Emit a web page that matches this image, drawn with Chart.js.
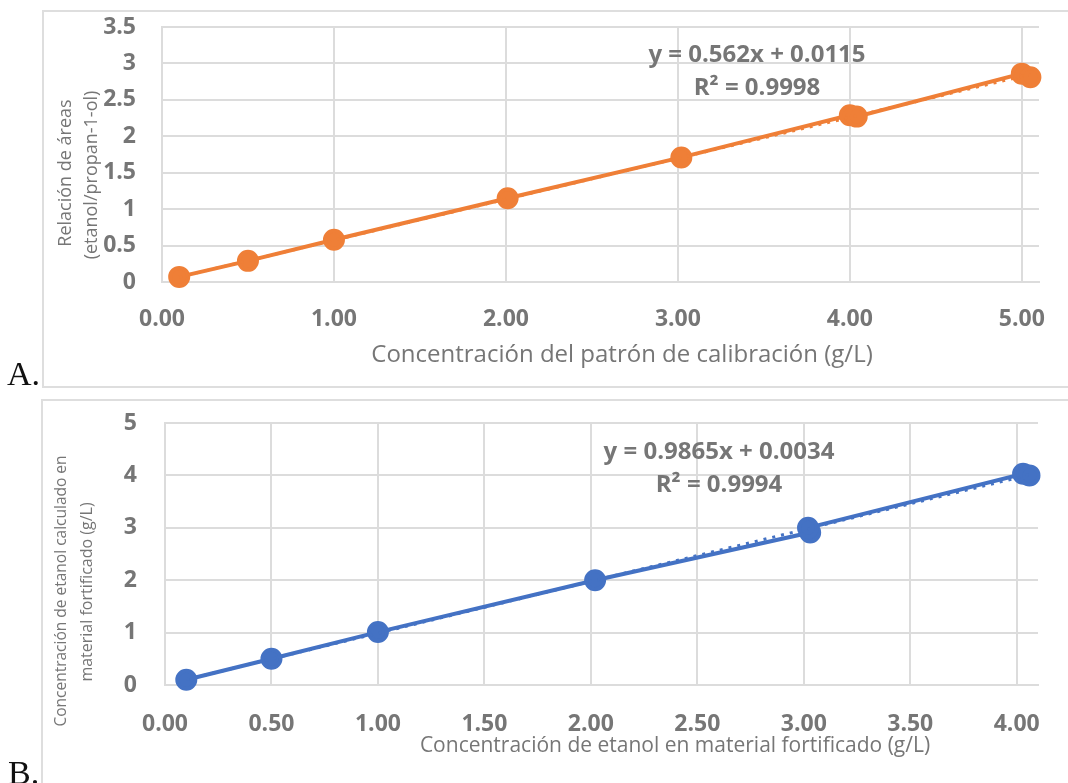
<!DOCTYPE html>
<html lang="es">
<head>
<meta charset="UTF-8">
<title>Curvas de calibración de etanol</title>
<script src="https://cdn.jsdelivr.net/npm/chart.js"></script>
<style>
  body { margin: 0; width: 1068px; height: 783px; overflow: hidden; background: #fff; position: relative; }
  .frame { position: absolute; border: 2px solid #dedede; box-sizing: border-box; }
  #frameA { left: 42px; top: 10px; width: 1040px; height: 378px; }
  #frameB { left: 41px; top: 399px; width: 1040px; height: 400px; }
  .wrap { position: absolute; left: 0; width: 1068px; }
  #wrapA { top: 0; height: 395px; }
  #wrapB { top: 395px; height: 388px; }
  .tag { position: absolute; font-family: "Liberation Serif", "DejaVu Serif", serif; font-size: 34px; line-height: 1; color: #111; }
</style>
</head>
<body>
  <div class="frame" id="frameA"></div>
  <div class="frame" id="frameB"></div>
  <div class="wrap" id="wrapA"><canvas id="chartA" width="1068" height="395"></canvas></div>
  <div class="wrap" id="wrapB"><canvas id="chartB" width="1068" height="388"></canvas></div>
  <div class="tag" style="left:7px; top:357px;">A.</div>
  <div class="tag" style="left:8px; top:756px;">B.</div>

<script>
// --- Panel A: calibration curve ---
const concA  = [0.1, 0.5, 1.0, 2.01, 3.02, 4.0, 4.04, 5.0, 5.05];
const ratioA = [0.07, 0.29, 0.58, 1.15, 1.71, 2.29, 2.27, 2.86, 2.81];
const trendXA = [0.1, 5.05];
const trendYA = [0.068, 2.85];
const xTicksA = [0, 1, 2, 3, 4, 5];
const yTicksA = [0, 0.5, 1, 1.5, 2, 2.5, 3, 3.5];

// --- Panel B: fortified material ---
const concB  = [0.1, 0.5, 1.0, 2.02, 3.03, 3.02, 4.03, 4.06];
const calcB  = [0.1, 0.5, 1.01, 2.0, 2.91, 3.0, 4.03, 4.0];
const trendXB = [0.1, 4.06];
const trendYB = [0.102, 4.01];
const xTicksB = [0, 0.5, 1, 1.5, 2, 2.5, 3, 3.5, 4];
const yTicksB = [0, 1, 2, 3, 4, 5];

const GRAY = '#767676';
const GRID = '#dcdcdc';
const FONT = '"Open Sans", sans-serif';

const toPoints = (xs, ys) => xs.map((x, i) => ({ x: x, y: ys[i] }));

// draws equation and axis titles at fixed spots
const freeText = {
  id: 'freeText',
  afterDraw(chart, args, opts) {
    const ctx = chart.ctx;
    (opts.items || []).forEach(t => {
      ctx.save();
      ctx.font = t.font;
      ctx.fillStyle = GRAY;
      ctx.textAlign = 'center';
      ctx.textBaseline = 'middle';
      ctx.translate(t.x, t.y);
      if (t.rot) ctx.rotate(-Math.PI / 2);
      ctx.fillText(t.text, 0, 0);
      ctx.restore();
    });
  }
};

function makeChart(id, o) {
  return new Chart(document.getElementById(id), {
    type: 'scatter',
    data: {
      datasets: [
        {
          data: toPoints(o.tx, o.ty),
          showLine: true,
          borderColor: o.color,
          borderWidth: 3,
          borderDash: [3, 6],
          pointRadius: 0,
          order: 0,
          clip: false
        },
        {
          data: toPoints(o.xs, o.ys),
          showLine: true,
          borderColor: o.color,
          backgroundColor: o.color,
          borderWidth: 4,
          pointRadius: 9,
          pointHoverRadius: 9,
          order: 1,
          clip: false
        }
      ]
    },
    options: {
      responsive: false,
      animation: false,
      layout: { padding: { top: o.padTop, right: o.padRight, left: 0, bottom: 0 } },
      plugins: {
        legend: { display: false },
        tooltip: { enabled: false },
        freeText: { items: o.texts }
      },
      scales: {
        x: {
          type: 'linear',
          min: 0,
          max: o.xMax,
          afterBuildTicks: s => { s.ticks = o.xTicks.map(v => ({ value: v })); },
          afterFit: s => {
            s.height = o.xAxisH;
            s.paddingLeft = 0;
            s.paddingRight = 0;
          },
          grid: { color: GRID, lineWidth: 2, drawTicks: false },
          border: { color: GRID, width: 2 },
          ticks: {
            padding: o.xPad,
            color: GRAY,
            font: { family: FONT, size: 23, weight: 'bold' },
            maxRotation: 0,
            callback: v => Number(v).toFixed(2)
          }
        },
        y: {
          min: 0,
          max: o.yMax,
          afterBuildTicks: s => { s.ticks = o.yTicks.map(v => ({ value: v })); },
          afterFit: s => {
            s.width = o.yAxisW;
            s.paddingTop = 0;
            s.paddingBottom = 0;
          },
          grid: { color: GRID, lineWidth: 2, drawTicks: false },
          border: { color: GRID, width: 2 },
          ticks: {
            padding: o.yPad,
            color: GRAY,
            font: { family: FONT, size: 23, weight: 'bold' },
            callback: v => String(v)
          }
        }
      }
    },
    plugins: [freeText]
  });
}

makeChart('chartA', {
  xs: concA, ys: ratioA, tx: trendXA, ty: trendYA,
  color: '#EF7F37',
  xMax: 5.1, yMax: 3.5, xTicks: xTicksA, yTicks: yTicksA,
  padTop: 27, padRight: 29, yAxisW: 162, xAxisH: 113, xPad: 24, yPad: 26,
  texts: [
    { text: 'y = 0.562x + 0.0115', x: 757, y: 55, font: 'bold 24px ' + FONT },
    { text: 'R² = 0.9998', x: 757, y: 88, font: 'bold 24px ' + FONT },
    { text: 'Concentración del patrón de calibración (g/L)', x: 622, y: 355, font: '24px ' + FONT },
    { text: 'Relación de áreas', x: 66, y: 173, rot: true, font: '18px ' + FONT },
    { text: '(etanol/propan-1-ol)', x: 92, y: 175, rot: true, font: '18px ' + FONT }
  ]
});

makeChart('chartB', {
  xs: concB, ys: calcB, tx: trendXB, ty: trendYB,
  color: '#4472C4',
  xMax: 4.1, yMax: 5, xTicks: xTicksB, yTicks: yTicksB,
  padTop: 28, padRight: 30, yAxisW: 165, xAxisH: 98, xPad: 26, yPad: 28,
  texts: [
    { text: 'y = 0.9865x + 0.0034', x: 719, y: 57, font: 'bold 24px ' + FONT },
    { text: 'R² = 0.9994', x: 719, y: 90, font: 'bold 24px ' + FONT },
    { text: 'Concentración de etanol en material fortificado (g/L)', x: 675, y: 351, font: '21px ' + FONT },
    { text: 'Concentración de etanol calculado en', x: 62, y: 196, rot: true, font: '15.5px ' + FONT },
    { text: 'material fortificado (g/L)', x: 87, y: 197, rot: true, font: '16px ' + FONT }
  ]
});
</script>
</body>
</html>
